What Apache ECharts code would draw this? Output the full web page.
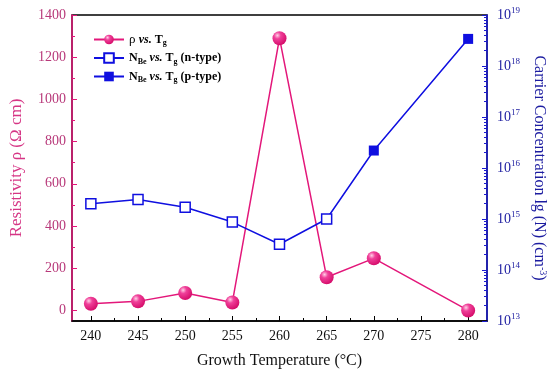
<!DOCTYPE html>
<html><head><meta charset="utf-8">
<script src="https://cdn.jsdelivr.net/npm/echarts@6/dist/echarts.min.js"></script>
<style>html,body{margin:0;padding:0;background:#fff}#c{width:550px;height:374px}</style>
</head><body><div id="c"></div>
<script>
var temps = [240, 245, 250, 255, 260, 265, 270, 280];
var rho = [32, 43, 83, 38, 1290, 157, 247, 0];
var nTypeT = [240, 245, 250, 255, 260, 265];
var nTypeN = [2.0e15, 2.4e15, 1.7e15, 8.7e14, 3.2e14, 1.0e15];
var pTypeT = [265, 270, 280];
var pTypeN = [1.0e15, 2.2e16, 3.4e18];
var xTicks = [240, 245, 250, 255, 260, 265, 270, 275, 280];
var xMinor = [242.5, 247.5, 252.5, 257.5, 262.5, 267.5, 272.5, 277.5];
var yTicks = [0, 200, 400, 600, 800, 1000, 1200, 1400];
var yMinor = [100, 300, 500, 700, 900, 1100, 1300];
var logTicks = [1e13, 1e14, 1e15, 1e16, 1e17, 1e18, 1e19];

var PINK = '#e3177a', BLUE = '#0f0fe0', FONT = 'Liberation Serif';
var logMinor = [];
for (var e = 13; e < 19; e++) for (var m = 2; m <= 9; m++) logMinor.push(m * Math.pow(10, e));

var chart = echarts.init(document.getElementById('c'));
var sup = {fontFamily: FONT, fontSize: 9, color: '#1c1ca0', verticalAlign: 'top', padding: [0,0,8,0]};
chart.setOption({
  animation: false,
  grid: {left: 72, right: 63, top: 15, bottom: 53, show: true, borderColor: '#000', borderWidth: 1.5,
    outerBoundsMode: 'none', containLabel: false},
  legend: {
    left: 88, top: 28, orient: 'vertical', itemGap: 5, itemWidth: 30, itemHeight: 12,
    data: ['rho', 'n', 'p'],
    formatter: function (n) {
      if (n === 'rho') return '{r|ρ }{i|vs.} {b|T}{s|g}';
      if (n === 'n') return '{b|N}{s|Be} {i|vs.} {b|T}{s|g} {b|(n-type)}';
      return '{b|N}{s|Be} {i|vs.} {b|T}{s|g} {b|(p-type)}';
    },
    textStyle: {
      fontFamily: FONT, fontSize: 12, color: '#000',
      rich: {
        r: {fontFamily: FONT, fontSize: 13, color: '#000'},
        b: {fontFamily: FONT, fontSize: 12, fontWeight: 'bold', color: '#000'},
        i: {fontFamily: FONT, fontSize: 12, fontWeight: 'bold', fontStyle: 'italic', color: '#000'},
        s: {fontFamily: FONT, fontSize: 8, fontWeight: 'bold', color: '#000', verticalAlign: 'bottom', padding: [7,0,0,0]}
      }
    }
  },
  xAxis: [{
    type: 'value', min: 238, max: 282, position: 'bottom',
    name: 'Growth Temperature (°C)', nameLocation: 'middle', nameGap: 32,
    nameTextStyle: {fontFamily: FONT, fontSize: 16, color: '#111'},
    axisLine: {onZero: false, lineStyle: {color: '#000', width: 1.5}},
    axisTick: {inside: true, length: 5, customValues: xTicks, lineStyle: {color: '#000'}},
    axisLabel: {customValues: xTicks, fontFamily: FONT, fontSize: 14, color: '#111', margin: 8},
    splitLine: {show: false}
  }, {
    type: 'value', min: 238, max: 282, position: 'bottom',
    axisLine: {show: false, onZero: false}, axisLabel: {show: false}, splitLine: {show: false},
    axisTick: {inside: true, length: 3, customValues: xMinor, lineStyle: {color: '#000'}}
  }],
  yAxis: [{
    type: 'value', min: -50, max: 1400, position: 'left',
    name: 'Resistivity ρ (Ω cm)', nameLocation: 'middle', nameGap: 47,
    nameTextStyle: {fontFamily: FONT, fontSize: 17, color: '#d63585'},
    axisLine: {show: true, onZero: false, lineStyle: {color: PINK, width: 1.5}},
    axisTick: {inside: true, length: 5, customValues: yTicks, lineStyle: {color: PINK}},
    axisLabel: {customValues: yTicks, fontFamily: FONT, fontSize: 14, color: '#b8397a', margin: 6,
      formatter: function (v) { return String(v); }},
    splitLine: {show: false}
  }, {
    type: 'log', logBase: 10, min: 1e13, max: 1e19, position: 'right',
    name: 'Carrier Concentration lg (N) (cm{sp|-3})', nameLocation: 'middle', nameGap: 38, nameRotate: -90,
    nameTextStyle: {fontFamily: FONT, fontSize: 16, color: '#1c1ca0',
      rich: {sp: {fontFamily: FONT, fontSize: 10, color: '#1c1ca0', padding: [0,0,8,0]}}},
    axisLine: {show: true, onZero: false, lineStyle: {color: '#1a1ad0', width: 1.5}},
    axisTick: {inside: true, length: 5, lineStyle: {color: '#1a1ad0'}},
    axisLabel: {fontFamily: FONT, fontSize: 14, color: '#1c1ca0', margin: 10,
      formatter: function (v) { return '10{s|' + Math.round(Math.log10(v)) + '}'; },
      rich: {s: sup}},
    splitLine: {show: false}, minorTick: {show: false}
  }, {
    type: 'log', logBase: 10, min: 1e13, max: 1e19, position: 'right',
    axisLine: {show: false, onZero: false}, axisLabel: {show: false}, splitLine: {show: false},
    axisTick: {inside: true, length: 3, customValues: logMinor, lineStyle: {color: '#1a1ad0'}}
  }, {
    type: 'value', min: -50, max: 1400, position: 'left',
    axisLine: {show: false, onZero: false}, axisLabel: {show: false}, splitLine: {show: false},
    axisTick: {inside: true, length: 3, customValues: yMinor, lineStyle: {color: PINK}}
  }],
  series: [{
    name: 'rho', type: 'line', xAxisIndex: 0, yAxisIndex: 0,
    data: temps.map(function (t, i) { return [t, rho[i]]; }),
    symbol: 'circle', symbolSize: 14,
    lineStyle: {color: PINK, width: 1.5},
    itemStyle: {color: {type: 'radial', x: 0.35, y: 0.3, r: 0.7,
      colorStops: [{offset: 0, color: '#ffd0e6'}, {offset: 0.35, color: '#f0409a'}, {offset: 1, color: '#d60f6c'}]},
      borderWidth: 0}
  }, {
    name: 'n', type: 'line', xAxisIndex: 0, yAxisIndex: 1,
    data: nTypeT.map(function (t, i) { return [t, nTypeN[i]]; }),
    symbol: 'rect', symbolSize: 10,
    lineStyle: {color: BLUE, width: 1.5},
    itemStyle: {color: '#fff', borderColor: BLUE, borderWidth: 1.5}
  }, {
    name: 'p', type: 'line', xAxisIndex: 0, yAxisIndex: 1,
    data: pTypeT.map(function (t, i) {
      return i === 0 ? {value: [t, pTypeN[i]], symbol: 'none'} : [t, pTypeN[i]];
    }),
    symbol: 'rect', symbolSize: 10,
    lineStyle: {color: BLUE, width: 1.5},
    itemStyle: {color: BLUE}
  }]
});
</script></body></html>
